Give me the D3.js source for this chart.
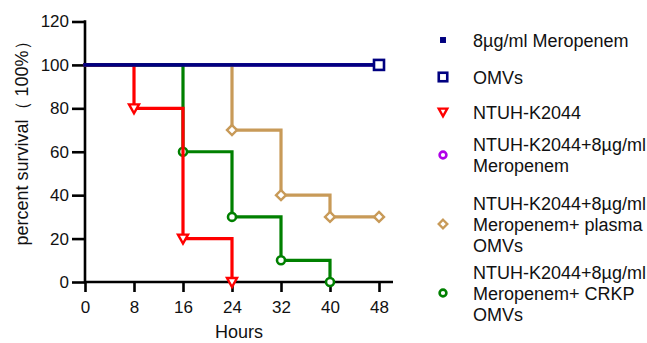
<!DOCTYPE html>
<html><head><meta charset="utf-8">
<script src="https://cdn.jsdelivr.net/npm/d3@7"></script>
<style>
body{margin:0;background:#fff;}
text{font-family:"Liberation Sans",Arial,sans-serif;fill:#111;}
</style></head>
<body><svg id="c" width="647" height="343"></svg>
<script>
// ---- data ----
const xTicks = [0, 8, 16, 24, 32, 40, 48];
const yTicks = [0, 20, 40, 60, 80, 100, 120];
const seriesNames = [
  "8µg/ml Meropenem",
  "OMVs",
  "NTUH-K2044",
  "NTUH-K2044+8µg/ml Meropenem",
  "NTUH-K2044+8µg/ml Meropenem+ plasma OMVs",
  "NTUH-K2044+8µg/ml Meropenem+ CRKP OMVs"
];
const meroTimes = [0, 48];
const meroSurv = [100, 100];
const omvTimes = [0, 48];
const omvSurv = [100, 100];
const k2044Times = [0, 8, 16, 24];
const k2044Surv = [100, 80, 20, 0];
const k2044MeroTimes = [0, 48];
const k2044MeroSurv = [100, 100];
const plasmaTimes = [0, 24, 32, 40, 48];
const plasmaSurv = [100, 70, 40, 30, 30];
const crkpTimes = [0, 16, 24, 32, 40];
const crkpSurv = [100, 60, 30, 10, 0];

const legendLines = [
  ["8µg/ml Meropenem"],
  ["OMVs"],
  ["NTUH-K2044"],
  ["NTUH-K2044+8µg/ml", "Meropenem"],
  ["NTUH-K2044+8µg/ml", "Meropenem+ plasma", "OMVs"],
  ["NTUH-K2044+8µg/ml", "Meropenem+ CRKP", "OMVs"]
];

// ---- styles ----
const colors = ["#000080", "#000080", "#ff0000", "#b000e8", "#c89a58", "#008000"];
const symbols = ["fsquare", "square", "tri", "circle", "diamond", "circle"];

const svg = d3.select("#c");
const x = d3.scaleLinear().domain([0, 48]).range([85, 379]);
const y = d3.scaleLinear().domain([0, 120]).range([282, 21.5]);

// axes
const gx = svg.append("g").attr("transform", "translate(0,282)")
  .call(d3.axisBottom(x).tickValues(xTicks).tickSize(10).tickPadding(9).tickFormat(d3.format("d")));
const gy = svg.append("g").attr("transform", "translate(85,0)")
  .call(d3.axisLeft(y).tickValues(yTicks).tickSize(13).tickPadding(3).tickFormat(d3.format("d")));
[gx, gy].forEach(g => {
  g.select(".domain").remove();
  g.selectAll(".tick line").attr("stroke", "#000").attr("stroke-width", 2.6);
  g.selectAll(".tick text").style("font-size", "17px").style("font-family", "Liberation Sans, Arial, sans-serif").attr("fill", "#111");
});
svg.append("line").attr("x1", 85).attr("x2", 393).attr("y1", 282).attr("y2", 282).attr("stroke", "#000").attr("stroke-width", 2.6);
svg.append("line").attr("x1", 85).attr("x2", 85).attr("y1", 20.2).attr("y2", 283.3).attr("stroke", "#000").attr("stroke-width", 2.6);

svg.append("text").attr("x", 239).attr("y", 338).attr("text-anchor", "middle")
  .style("font-size", "18px").text("Hours");
svg.append("text").attr("transform", "translate(28,139) rotate(-90)").attr("text-anchor", "middle")
  .style("font-size", "18px").text("percent survival（ 100%）");

// lines
const line = d3.line().x(d => x(d[0])).y(d => y(d[1])).curve(d3.curveStepAfter);
const allSeries = [
  {i: 3, t: k2044MeroTimes, s: k2044MeroSurv, marks: []},
  {i: 4, t: plasmaTimes, s: plasmaSurv, marks: [1, 2, 3, 4]},
  {i: 5, t: crkpTimes, s: crkpSurv, marks: [1, 2, 3, 4]},
  {i: 2, t: k2044Times, s: k2044Surv, marks: [1, 2, 3]},
  {i: 0, t: meroTimes, s: meroSurv, marks: []},
  {i: 1, t: omvTimes, s: omvSurv, marks: [1]}
];

function drawSym(g, type, color, cx, cy, sc) {
  sc = sc || 1;
  if (type === "fsquare") {
    g.append("rect").attr("x", cx - 3.5 * sc).attr("y", cy - 3.5 * sc).attr("width", 7 * sc).attr("height", 7 * sc).attr("fill", color);
  } else if (type === "square") {
    g.append("rect").attr("x", cx - 5 * sc).attr("y", cy - 5 * sc).attr("width", 10 * sc).attr("height", 10 * sc)
      .attr("fill", "#fff").attr("stroke", color).attr("stroke-width", 2.6);
  } else if (type === "tri") {
    g.append("path").attr("d", `M${cx - 5 * sc},${cy - 4 * sc}L${cx + 5 * sc},${cy - 4 * sc}L${cx},${cy + 5 * sc}Z`)
      .attr("fill", "#fff").attr("stroke", color).attr("stroke-width", 2.4).attr("stroke-linejoin", "miter");
  } else if (type === "circle") {
    g.append("circle").attr("cx", cx).attr("cy", cy).attr("r", 4 * sc)
      .attr("fill", "#fff").attr("stroke", color).attr("stroke-width", 2.6);
  } else if (type === "diamond") {
    g.append("path").attr("d", `M${cx},${cy - 5 * sc}L${cx + 5 * sc},${cy}L${cx},${cy + 5 * sc}L${cx - 5 * sc},${cy}Z`)
      .attr("fill", "#fff").attr("stroke", color).attr("stroke-width", 2.4);
  }
}

allSeries.forEach(S => {
  const pts = S.t.map((t, k) => [t, S.s[k]]);
  const g = svg.append("g");
  g.append("path").attr("d", line(pts)).attr("fill", "none").attr("stroke", colors[S.i])
    .attr("stroke-width", 3.2).attr("stroke-linejoin", "miter").attr("stroke-linecap", "square");
  S.marks.forEach(k => drawSym(g, symbols[S.i], colors[S.i], x(pts[k][0]), y(pts[k][1])));
});

// legend
const legY = [40, 77, 112, 155, 224, 293];
const lg = svg.append("g");
legendLines.forEach((lines, i) => {
  drawSym(lg, symbols[i], colors[i], 443, legY[i], 0.85);
  const n = lines.length;
  const t = lg.append("text").attr("x", 473).style("font-size", "18px");
  lines.forEach((L, k) => {
    t.append("tspan").attr("x", 473).attr("y", legY[i] + (k - (n - 1) / 2) * 21 + 6.5).text(L);
  });
});
</script></body></html>
